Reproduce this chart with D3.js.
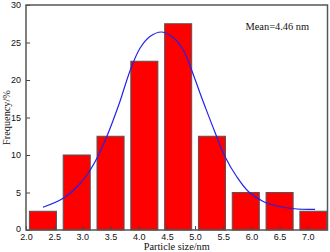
<!DOCTYPE html>
<html><head><meta charset="utf-8">
<script src="https://cdn.jsdelivr.net/npm/d3@7"></script>
<style>html,body{margin:0;padding:0;background:#fff;}svg{display:block;}</style>
</head><body>
<svg id="c" width="330" height="252"></svg>
<script>
const binCenters = [2.3, 2.9, 3.5, 4.1, 4.7, 5.3, 5.9, 6.5, 7.1];
const frequency = [2.5, 10, 12.5, 22.5, 27.5, 12.5, 5, 5, 2.5];
const fitX = [2.30, 2.66, 2.96, 3.14, 3.26, 3.43, 3.55, 3.67, 3.85, 4.02, 4.20, 4.41, 4.62, 4.79, 4.94, 5.09, 5.18, 5.36, 5.53, 5.74, 5.95, 6.21, 6.51, 6.81, 7.13];
const fitY = [3.03, 4.23, 6.2, 8.0, 9.6, 12.4, 14.7, 17.2, 21.3, 24.2, 25.8, 26.4, 25.6, 24.0, 21.3, 18.2, 16.4, 12.9, 9.8, 7.1, 5.1, 3.8, 3.1, 2.8, 2.76];
const xTicks = [2.0, 2.5, 3.0, 3.5, 4.0, 4.5, 5.0, 5.5, 6.0, 6.5, 7.0];
const yTicks = [0, 5, 10, 15, 20, 25, 30];
const binWidth = 0.48;

const svg = d3.select("#c");
const L = 26, R = 327.5, T = 5, B = 230;
const x = d3.scaleLinear().domain([2, 7.35]).range([L, R]);
const y = d3.scaleLinear().domain([0, 30]).range([B, T]);

// bars
svg.append("g").selectAll("rect").data(binCenters).join("rect")
  .attr("x", (d) => x(d - binWidth / 2))
  .attr("width", (d) => x(d + binWidth / 2) - x(d - binWidth / 2))
  .attr("y", (d, i) => y(frequency[i]))
  .attr("height", (d, i) => y(0) - y(frequency[i]))
  .attr("fill", "#ff0000")
  .attr("stroke", "#555")
  .attr("stroke-width", 1);

// fit curve
const line = d3.line().x((d) => x(d[0])).y((d) => y(d[1])).curve(d3.curveCatmullRom);
svg.append("path").datum(fitX.map((v, i) => [v, fitY[i]]))
  .attr("d", line).attr("fill", "none").attr("stroke", "#2222ee").attr("stroke-width", 1.2);

// axes
const xAxis = d3.axisBottom(x).tickValues(xTicks).tickFormat(d3.format(".1f")).tickSizeInner(-4).tickSizeOuter(0).tickPadding(4);
const gx = svg.append("g").attr("transform", `translate(0,${B})`).call(xAxis);
const yAxis = d3.axisLeft(y).tickValues(yTicks).tickSizeInner(-4).tickSizeOuter(0).tickPadding(5);
const gy = svg.append("g").attr("transform", `translate(${L},0)`).call(yAxis);
[gx, gy].forEach(g => {
  g.select(".domain").remove();
  g.selectAll(".tick line").attr("stroke", "#444").attr("stroke-width", 1);
  g.selectAll(".tick text").attr("font-family", "Liberation Sans, Arial, sans-serif").attr("font-size", "9px").attr("fill", "#111");
});
gy.select(".tick text").attr("dy", "0.2em");

// frame
svg.append("rect").attr("x", L).attr("y", T).attr("width", R - L).attr("height", B - T)
  .attr("fill", "none").attr("stroke", "#555").attr("stroke-width", 1.5);

// titles
svg.append("text").attr("x", (L + R) / 2).attr("y", 250).attr("text-anchor", "middle")
  .attr("font-family", "Liberation Serif, Times New Roman, serif").attr("font-size", "10.3px").attr("fill", "#111")
  .text("Particle size/nm");
svg.append("text").attr("transform", `translate(10,${(T + B) / 2}) rotate(-90)`).attr("text-anchor", "middle")
  .attr("font-family", "Liberation Serif, Times New Roman, serif").attr("font-size", "10.3px").attr("fill", "#111")
  .text("Frequency/%");
svg.append("text").attr("x", 245.5).attr("y", 30)
  .attr("font-family", "Liberation Serif, Times New Roman, serif").attr("font-size", "10.4px").attr("fill", "#111")
  .text("Mean=4.46 nm");
</script>
</body></html>
